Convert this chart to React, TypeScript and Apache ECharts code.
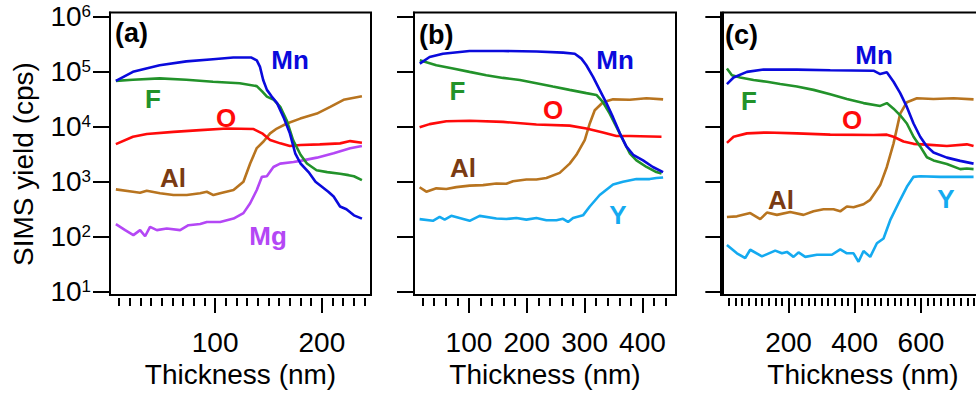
import React, { useEffect, useRef } from "react";
import * as echarts from "echarts";

const FONT = "'Liberation Sans', Arial, Helvetica, sans-serif";

// y axis: decades (log10 of cps)
const decades = [1, 2, 3, 4, 5, 6];

// ---------- Panel (a) : [thickness nm, yield cps] ----------
const mnA = [[7, 68500], [23, 100000], [48, 132000], [73, 155000], [98, 170000], [117, 182000], [134, 182000], [139, 162000], [142, 123000], [145, 71000], [148.5, 47000], [153, 35500], [158, 27000], [164, 15000], [170, 7600], [175, 3300], [180, 2150], [187.5, 1500], [194, 1000], [206, 660], [211, 540], [217, 355], [223, 316], [230, 245], [237.5, 214]];
const fA = [[7, 68500], [23, 72000], [48, 76000], [73, 72000], [98, 66000], [123, 62000], [139, 55000], [144, 44000], [148.5, 35500], [155, 31000], [161, 23000], [167, 13200], [173, 5750], [180, 3100], [186, 2150], [195, 1620], [205, 1500], [217, 1400], [225, 1320], [230, 1260], [237.5, 1070]];
const oA = [[7, 4850], [23, 6600], [36, 7400], [61, 8100], [86, 8700], [111, 9300], [136, 9100], [144, 7600], [151.5, 5750], [161, 5000], [170, 4470], [180, 4680], [198, 4800], [217, 5000], [226.5, 5500], [237.5, 5130]];
const alA = [[7, 728], [23, 658], [29.6, 630], [35.9, 686], [48.4, 617], [60.9, 573], [73.4, 573], [85.9, 617], [92.2, 658], [98.4, 573], [104.7, 617], [117.2, 706], [126.5, 1000], [132.8, 2150], [139, 4100], [145.3, 5400], [151.5, 7600], [157.8, 9300], [167.2, 11500], [179.7, 14100], [195.3, 17400], [207.8, 23000], [220.3, 31000], [237.5, 36000]];
const mgA = [[7, 170], [15.7, 132], [23.4, 107], [29.7, 132], [34.4, 102], [39, 151], [45.4, 132], [54.7, 141], [67.2, 132], [75, 162], [86, 170], [92.2, 186], [104.7, 186], [117.2, 214], [126.5, 269], [132.8, 407], [139, 708], [143.8, 1230], [148.4, 1260], [154.6, 1860], [160.9, 2140], [173.4, 2290], [179.7, 2400], [195.3, 2750], [211, 3310], [226.5, 4070], [237.5, 4470]];

// ---------- Panel (b) ----------
const mnB = [[15, 141000], [32, 186000], [55, 214000], [101, 240000], [159, 240000], [217, 234000], [263, 224000], [283, 214000], [294.5, 174000], [303, 132000], [314.6, 81000], [326, 47000], [337.7, 27000], [349, 15000], [361, 7600], [372, 4400], [384, 3100], [401, 2450], [418, 1860], [435.7, 1500]];
const fB = [[15, 162000], [43.6, 132000], [72.4, 115000], [101, 100000], [130, 87000], [159, 77600], [188, 71000], [216.6, 62000], [245, 54000], [274, 47000], [303, 41000], [320.4, 38000], [331.8, 28000], [343.4, 17400], [355, 10000], [366.4, 5750], [378, 3300], [389.6, 2450], [407, 1860], [424, 1500], [433, 1410]];
const oB = [[14.7, 9800], [32, 11200], [60.9, 12600], [101.2, 12900], [158.8, 12300], [216.6, 11000], [274.2, 10500], [303.1, 9300], [331.8, 7900], [355, 6800], [378, 6800], [432.9, 6600]];
const alB = [[14.7, 795], [26.3, 660], [43.6, 760], [60.9, 740], [78.2, 800], [101.2, 850], [124.3, 870], [147.4, 930], [164.7, 920], [176.2, 1020], [199.3, 1100], [216.6, 1100], [233.9, 1170], [256.9, 1450], [274.2, 2140], [285.8, 3100], [300.2, 5750], [308.9, 11500], [317.5, 20000], [331.8, 28000], [349.2, 31600], [378, 31000], [406.9, 33000], [435.7, 31600]];
const yB = [[14.7, 209], [37.7, 195], [49.3, 229], [58, 205], [69.5, 240], [101.2, 195], [118.5, 240], [147.4, 215], [164.7, 210], [182, 220], [199.3, 205], [216.6, 220], [233.9, 200], [251.2, 200], [262.6, 212], [271.3, 186], [280, 220], [297.2, 245], [308.9, 355], [326.1, 575], [349.2, 890], [366.4, 1000], [389.6, 1120], [412.5, 1120], [424.2, 1170], [435.7, 1200]];

// ---------- Panel (c) ----------
const mnC = [[13.9, 60000], [34, 79000], [74.3, 100000], [124.6, 110000], [225.3, 110000], [326, 107000], [456.8, 105000], [477, 91000], [497, 98000], [517.3, 66000], [537.4, 41000], [557.5, 23000], [577.7, 11500], [597.8, 6600], [618, 4400], [638, 3400], [678.4, 2750], [718.7, 2400], [759, 2140]];
const fC = [[13.9, 115000], [29, 87000], [54, 79000], [94.3, 71000], [134.7, 66000], [174.9, 60000], [225.3, 54000], [275.6, 47000], [326, 39000], [376.3, 32000], [426.6, 27000], [477, 24000], [497, 27000], [517.3, 21400], [537.4, 16200], [557.5, 11500], [577.7, 6600], [597.8, 4400], [618, 2800], [638, 2450], [678.4, 2100], [718.7, 1700], [738.8, 1740], [759, 1700]];
const oC = [[13.9, 5100], [34, 6600], [74.3, 7600], [134.7, 7900], [225.3, 7600], [326, 7200], [456.8, 7100], [497, 7200], [517.3, 6600], [547.4, 5400], [577.7, 4900], [628, 4700], [678.4, 4470], [738.8, 4800], [759, 4470]];
const alC = [[13.9, 229], [44.1, 235], [84.3, 270], [114.5, 209], [134.7, 275], [164.9, 250], [205.1, 282], [245.3, 250], [275.6, 290], [305.7, 316], [336, 316], [356.2, 290], [376.3, 355], [396.4, 345], [426.6, 390], [446.8, 470], [477, 870], [497, 1860], [517.3, 5000], [537.4, 17400], [557.5, 28000], [587.9, 33000], [638, 32000], [698.5, 33000], [759, 31600]];
const yC = [[13.9, 71], [44.1, 50], [69.2, 41], [84.3, 58], [119.6, 44], [159.8, 56], [180, 50], [195.2, 53], [215.1, 43], [230.2, 52], [250.5, 43], [285.7, 47], [331.1, 47], [356.2, 59], [376.3, 50], [396.4, 50], [411.5, 35], [426.6, 55], [446.8, 43], [467, 76], [487, 93], [507.2, 200], [537.4, 470], [557.5, 810], [577.7, 1230], [597.8, 1260], [658.3, 1230], [759, 1230]];

// x-axis ticks
const majorA = [100, 200];
const minorA = [10, 20, 30, 40, 50, 60, 70, 80, 90, 110, 120, 130, 140, 150, 160, 170, 180, 190, 210, 220, 230, 240];
const majorB = [100, 200, 300, 400];
const minorB = [20, 40, 60, 80, 120, 140, 160, 180, 220, 240, 260, 280, 320, 340, 360, 380, 420, 440];
const majorC = [200, 400, 600];
const minorC = [20, 40, 60, 80, 100, 120, 140, 160, 180, 220, 240, 260, 280, 300, 320, 340, 360, 380, 420, 440, 460, 480, 500, 520, 540, 560, 580, 620, 640, 660, 680, 700, 720, 740, 760, 780, 820, 840];

const C = {
  Mn: "#0a0adc",
  F: "#22922a",
  O: "#ff0a0a",
  Al: "#b8741f",
  AlText: "#7a3b12",
  Mg: "#b447f5",
  Y: "#14aaf0",
};

const panels = [
  { left: 110, width: 261, min: 1.5, max: 246, major: majorA, minor: minorA, tag: "(a)" },
  { left: 414, width: 262, min: 5, max: 458, major: majorB, minor: minorB, tag: "(b)" },
  { left: 721, width: 284, min: -4, max: 854, major: majorC, minor: minorC, tag: "(c)" },
];

const GTOP = 12.5;
const GH = 282.5;
const YMIN = 0.94;
const YMAX = 6.08;

export default function App() {
  const ref = useRef<HTMLDivElement>(null);
  useEffect(() => {
    if (!ref.current) return;
    const chart = echarts.init(ref.current, undefined, { renderer: "svg" });

    const grids: any[] = [];
    const xAxes: any[] = [];
    const yAxes: any[] = [];
    panels.forEach((p, i) => {
      grids.push({ left: p.left, top: GTOP, width: p.width, height: GH, show: true, borderColor: "#000", borderWidth: 2, backgroundColor: "transparent", containLabel: false, outerBoundsMode: "none" });
      xAxes.push({
        type: "value", gridIndex: i, min: p.min, max: p.max, offset: 3,
        axisLine: { show: false },
        axisTick: { show: true, length: 15, customValues: p.major, lineStyle: { color: "#000", width: 2 } },
        axisLabel: { show: true, customValues: p.major, margin: 30, color: "#000", fontSize: 28, fontFamily: FONT },
        splitLine: { show: false },
        name: "Thickness (nm)", nameLocation: "middle", nameGap: 61,
        nameTextStyle: { color: "#000", fontSize: 28, fontFamily: FONT },
      });
      yAxes.push({
        type: "value", gridIndex: i, min: YMIN, max: YMAX,
        axisLine: { show: true, lineStyle: { color: "#000", width: 2 } },
        axisTick: { show: true, length: 17, customValues: decades, lineStyle: { color: "#000", width: 2 } },
        axisLabel: i === 0
          ? {
              show: true, customValues: decades, margin: 19,
              formatter: (v: number) => `{b|10}{s|${Math.round(v)}}`,
              rich: {
                b: { fontSize: 28, fontFamily: FONT, color: "#000" },
                s: { fontSize: 17, fontFamily: FONT, color: "#000", verticalAlign: "top" },
              },
            }
          : { show: false },
        splitLine: { show: false },
      });
    });
    panels.forEach((p, i) => {
      grids.push({ left: p.left, top: GTOP, width: p.width, height: GH, show: false, containLabel: false, outerBoundsMode: "none" });
      xAxes.push({
        type: "value", gridIndex: i + 3, min: p.min, max: p.max, offset: 3,
        axisLine: { show: false },
        axisTick: { show: true, length: 8, customValues: p.minor, lineStyle: { color: "#000", width: 2 } },
        axisLabel: { show: false },
        splitLine: { show: false },
      });
      yAxes.push({ type: "value", gridIndex: i + 3, min: YMIN, max: YMAX, show: false });
    });

    const line = (pairs: number[][], color: string, idx: number, name: string) => ({
      type: "line", name, xAxisIndex: idx, yAxisIndex: idx,
      data: pairs.map(([x, c]) => [x, Math.log10(c)]),
      symbol: "none", showSymbol: false, smooth: false, clip: true, silent: true,
      lineStyle: { color, width: 2.6 }, itemStyle: { color },
    });

    const series = [
      line(mgA, C.Mg, 0, "Mg"), line(alA, C.Al, 0, "Al"), line(oA, C.O, 0, "O"), line(fA, C.F, 0, "F"), line(mnA, C.Mn, 0, "Mn"),
      line(yB, C.Y, 1, "Y"), line(alB, C.Al, 1, "Al"), line(oB, C.O, 1, "O"), line(fB, C.F, 1, "F"), line(mnB, C.Mn, 1, "Mn"),
      line(yC, C.Y, 2, "Y"), line(alC, C.Al, 2, "Al"), line(oC, C.O, 2, "O"), line(fC, C.F, 2, "F"), line(mnC, C.Mn, 2, "Mn"),
    ];

    const lbl = (text: string, x: number, y: number, color: string, align = "center") => ({
      type: "text", x, y, silent: true,
      style: { text, fill: color, font: `bold 26px ${FONT}`, align, verticalAlign: "middle" },
    });

    const graphic = [
      { type: "text", x: 23, y: 164, rotation: Math.PI / 2, silent: true,
        style: { text: "SIMS yield (cps)", fill: "#000", font: `28px ${FONT}`, align: "center", verticalAlign: "middle" } },
      { type: "text", x: 115, y: 33, silent: true, style: { text: "(a)", fill: "#000", font: `bold 27px ${FONT}`, align: "left", verticalAlign: "middle" } },
      { type: "text", x: 419, y: 35, silent: true, style: { text: "(b)", fill: "#000", font: `bold 27px ${FONT}`, align: "left", verticalAlign: "middle" } },
      { type: "text", x: 725, y: 35, silent: true, style: { text: "(c)", fill: "#000", font: `bold 27px ${FONT}`, align: "left", verticalAlign: "middle" } },
      lbl("Mn", 290, 60, C.Mn), lbl("F", 153, 99, C.F), lbl("O", 226, 118, C.O), lbl("Al", 173, 178, C.AlText), lbl("Mg", 268, 236, C.Mg),
      lbl("Mn", 615, 60, C.Mn), lbl("F", 457.5, 91, C.F), lbl("O", 553, 110, C.O), lbl("Al", 463, 168, C.AlText), lbl("Y", 618, 215, C.Y),
      lbl("Mn", 874, 55, C.Mn), lbl("F", 749, 101, C.F), lbl("O", 852, 120, C.O), lbl("Al", 781, 200, C.AlText), lbl("Y", 946, 199, C.Y),
    ];

    chart.setOption({
      animation: false,
      backgroundColor: "#fff",
      textStyle: { fontFamily: FONT },
      grid: grids,
      xAxis: xAxes,
      yAxis: yAxes,
      series,
      graphic,
    });
    return () => chart.dispose();
  }, []);

  return <div ref={ref} style={{ width: 976, height: 394, position: "fixed", left: 0, top: 0 }} />;
}
